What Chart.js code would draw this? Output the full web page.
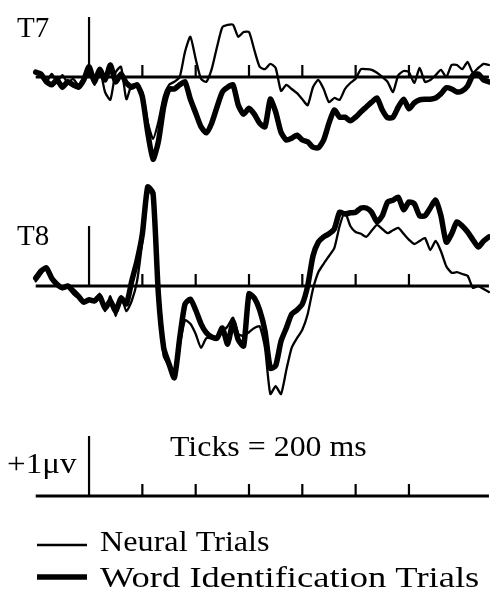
<!DOCTYPE html>
<html>
<head>
<meta charset="utf-8">
<title>T7 / T8 ERP</title>
<script src="https://cdn.jsdelivr.net/npm/chart.js@4.4.1/dist/chart.umd.min.js"></script>
<style>
  html, body { margin: 0; padding: 0; background: #fff; }
  #erp { display: block; }
</style>
</head>
<body>
<canvas id="erp" width="490" height="592"></canvas>
<script>
// sample times (ms from stimulus onset)
const TIMES = [
  -200, -180, -160, -140, -120, -100, -80, -60, -40, -20,
  0, 20, 40, 60, 80, 100, 120, 140, 160, 180,
  200, 220, 240, 260, 280, 300, 320, 340, 360, 380,
  400, 420, 440, 460, 480, 500, 520, 540, 560, 580,
  600, 620, 640, 660, 680, 700, 720, 740, 760, 780,
  800, 820, 840, 860, 880, 900, 920, 940, 960, 980,
  1000, 1020, 1040, 1060, 1080, 1100, 1120, 1140, 1160, 1180,
  1200, 1220, 1240, 1260, 1280, 1300, 1320, 1340, 1360, 1380,
  1400, 1420, 1440, 1460, 1480, 1500
];

// amplitudes in microvolts (+ up)
const T7_NEURAL = [
  0.08, 0, -0.08, 0.05, -0.08, 0.03, -0.1, -0.03, -0.13, 0,
  0.2, -0.13, 0.13, -0.25, -0.38, 0.08, 0.17, -0.37, -0.13, -0.13,
  -0.25, -0.75, -1.03, -0.75, -0.33, -0.13, -0.08, 0, 0.42, 0.67,
  0.3, -0.03, -0.08, 0.13, 0.5, 0.83, 0.87, 0.87, 0.67, 0.75,
  0.75, 0.45, 0.17, 0.13, 0.22, 0.15, -0.23, -0.13, -0.2, -0.27,
  -0.37, -0.47, -0.17, -0.05, -0.2, -0.42, -0.35, -0.38, -0.2, -0.1,
  -0.03, 0.13, 0.13, 0.12, 0.07, 0, -0.08, -0.25, 0.03, 0.1,
  0.08, -0.1, 0.15, -0.08, -0.05, 0.03, 0.12, 0, 0.2, 0.2,
  0.13, 0.25, 0.07, 0.15, 0.22, 0.2
];
const T7_WORD = [
  0.08, 0.05, -0.08, -0.13, -0.05, -0.17, -0.08, -0.13, -0.17, -0.05,
  0.17, -0.08, 0.13, -0.05, 0.2, -0.08, 0.05, -0.1, -0.17, -0.13,
  -0.33, -0.92, -1.37, -1.08, -0.5, -0.2, -0.2, -0.13, -0.08, -0.37,
  -0.6, -0.83, -0.93, -0.77, -0.5, -0.25, -0.17, -0.13, -0.47, -0.62,
  -0.52, -0.62, -0.77, -0.83, -0.37, -0.58, -0.92, -1.05, -1.02, -0.97,
  -1.05, -1.08, -1.17, -1.18, -1.05, -0.77, -0.55, -0.67, -0.67, -0.73,
  -0.67, -0.58, -0.5, -0.42, -0.35, -0.55, -0.68, -0.67, -0.5, -0.37,
  -0.53, -0.43, -0.38, -0.37, -0.37, -0.35, -0.28, -0.18, -0.2, -0.25,
  -0.23, -0.15, 0.03, 0.05, -0.05, -0.08
];
const T8_NEURAL = [
  0.08, 0.2, 0.33, 0.17, 0, -0.05, -0.03, -0.13, -0.2, -0.25,
  -0.23, -0.27, -0.13, -0.42, -0.17, -0.5, -0.17, -0.42, -0.25, 0.08,
  0.75, 1.58, 1.5, -0.17, -1.17, -1.33, -1.53, -1.0, -0.57, -0.63,
  -0.8, -1.03, -0.87, -0.87, -0.87, -0.77, -0.67, -0.53, -0.8, -0.83,
  -0.77, -0.7, -0.67, -1.03, -1.8, -1.67, -1.8, -1.4, -1.03, -0.87,
  -0.73, -0.47, -0.05, 0.23, 0.37, 0.5, 0.63, 1.0, 1.23, 1.0,
  0.9, 0.87, 0.82, 0.92, 1.02, 0.95, 0.88, 0.93, 0.97, 0.87,
  0.77, 0.7, 0.75, 0.8, 0.6, 0.75, 0.58, 0.33, 0.22, 0.23,
  0.2, 0.17, -0.03, 0, -0.05, -0.1
];
const T8_WORD = [
  0.13, 0.25, 0.3, 0.13, 0.03, -0.03, 0, -0.08, -0.17, -0.27,
  -0.23, -0.25, -0.17, -0.37, -0.25, -0.42, -0.2, -0.3, 0.08, 0.42,
  0.87, 1.65, 1.55, -0.13, -1.03, -1.3, -1.53, -0.87, -0.3, -0.22,
  -0.4, -0.63, -0.78, -0.85, -0.87, -0.7, -0.97, -0.6, -0.9, -1.0,
  -0.13, -0.2, -0.4, -0.75, -1.37, -1.33, -0.92, -0.7, -0.47, -0.4,
  -0.3, 0, 0.5, 0.73, 0.82, 0.87, 0.95, 1.23, 1.2, 1.22,
  1.23, 1.3, 1.3, 1.23, 1.07, 1.17, 1.4, 1.43, 1.48, 1.27,
  1.4, 1.37, 1.17, 1.17, 1.3, 1.43, 1.17, 0.73, 0.87, 1.07,
  1.0, 0.9, 0.77, 0.65, 0.75, 0.82
];

const TICK_TIMES = [200, 400, 600, 800, 1000, 1200];
const EPOCH = [-200, 1500];
const PANEL_LABELS = ["T7", "T8"];
const LEGEND_LABELS = ["Neural Trials", "Word Identification Trials"];
const SCALE_TEXT = "Ticks = 200 ms";
const AMP_TEXT = "+1\u03bcv";

// layout (pixels / units)
const SERIF = '"Liberation Serif", "Times New Roman", serif';
const SCALE_BAR_LEVEL = -3.5;   // μV on the T8 axis where the scale bar sits
const TICK_LEN = 0.2;           // μV
const THIN = 2.3, THICK = 5.5;

const el = (id) => document.getElementById(id);
const pts = (vals) => TIMES.map((t, i) => ({ x: t, y: vals[i] }));

const stretchText = (ctx, text, x, y, size, sx) => {
    ctx.save();
    ctx.font = `${size}px ${SERIF}`;
    ctx.translate(x, y);
    ctx.scale(sx, 1);
    ctx.fillText(text, 0, 0);
    ctx.restore();
};

const erpDecor = {
    id: "erpDecor",
    beforeDatasetsDraw(chart) {
        const { ctx, scales } = chart;
        const xs = scales.x;
        ctx.save();
        ctx.strokeStyle = "#000";
        ctx.lineCap = "butt";

        const drawAxis = (ys, zero, onsetTop) => {
            const y0 = ys.getPixelForValue(zero);
            ctx.lineWidth = 2.8;
            ctx.beginPath();
            ctx.moveTo(xs.getPixelForValue(EPOCH[0]), y0);
            ctx.lineTo(xs.getPixelForValue(EPOCH[1]), y0);
            ctx.stroke();

            ctx.lineWidth = 2.2;
            ctx.beginPath();
            ctx.moveTo(xs.getPixelForValue(0), y0);
            ctx.lineTo(xs.getPixelForValue(0), ys.getPixelForValue(zero + onsetTop));
            TICK_TIMES.forEach((t) => {
                const px = xs.getPixelForValue(t);
                ctx.moveTo(px, y0);
                ctx.lineTo(px, ys.getPixelForValue(zero + TICK_LEN));
            });
            ctx.stroke();
        };

        drawAxis(scales.y7, 0, 1);
        drawAxis(scales.y8, 0, 1);
        drawAxis(scales.y8, SCALE_BAR_LEVEL, 1);
        ctx.restore();
    },
    afterDraw(chart) {
        const { ctx } = chart;
        ctx.save();
        ctx.fillStyle = "#000";
        ctx.textBaseline = "alphabetic";

        stretchText(ctx, PANEL_LABELS[0], 17, 37, 29, 1);
        stretchText(ctx, PANEL_LABELS[1], 17, 245, 29, 1);

        stretchText(ctx, AMP_TEXT, 7, 473, 29, 1.14);
        stretchText(ctx, SCALE_TEXT, 170, 456, 29, 1.1);

        // legend
        ctx.strokeStyle = "#000";
        ctx.lineWidth = THIN;
        ctx.beginPath();
        ctx.moveTo(37, 545); ctx.lineTo(87, 545);
        ctx.stroke();
        ctx.lineWidth = THICK;
        ctx.beginPath();
        ctx.moveTo(37, 577); ctx.lineTo(87, 577);
        ctx.stroke();
        stretchText(ctx, LEGEND_LABELS[0], 100, 551, 29, 1.11);
        stretchText(ctx, LEGEND_LABELS[1], 100, 587, 29, 1.26);
        ctx.restore();
    }
};

const lineSet = (label, vals, axis, width) => ({
    label,
    data: pts(vals),
    yAxisID: axis,
    borderColor: "#000",
    borderWidth: width,
    pointRadius: 0,
    tension: 0.2,
    borderJoinStyle: "round",
    borderCapStyle: "round",
    fill: false,
});

new Chart(el("erp").getContext("2d"), {
    type: "line",
    data: {
        datasets: [
            lineSet("T7 " + LEGEND_LABELS[0], T7_NEURAL, "y7", THIN),
            lineSet("T7 " + LEGEND_LABELS[1], T7_WORD, "y7", THICK),
            lineSet("T8 " + LEGEND_LABELS[0], T8_NEURAL, "y8", THIN),
            lineSet("T8 " + LEGEND_LABELS[1], T8_WORD, "y8", THICK),
        ],
    },
    options: {
        responsive: false,
        animation: false,
        events: [],
        layout: { padding: 0 },
        scales: {
            x: { type: "linear", min: -334, max: 1504, display: false },
            y7: { type: "linear", min: -8.5833, max: 1.2833, display: false },
            y8: { type: "linear", min: -5.1, max: 4.7667, display: false },
        },
        plugins: {
            legend: { display: false },
            tooltip: { enabled: false },
        },
    },
    plugins: [erpDecor],
});
</script>
</body>
</html>
